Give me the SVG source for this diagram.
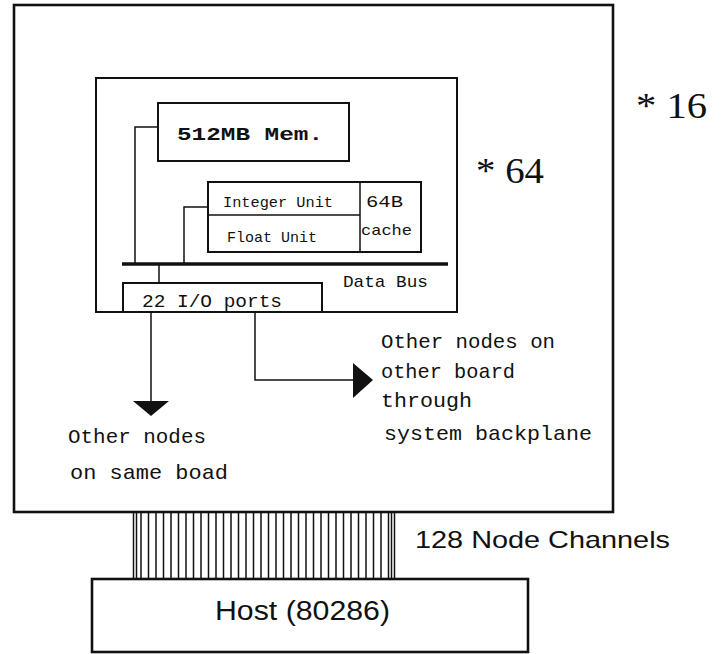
<svg xmlns="http://www.w3.org/2000/svg" width="725" height="654" viewBox="0 0 725 654">
<style>
.box{fill:none;stroke:#111;stroke-width:2}
.thick{fill:none;stroke:#111;stroke-width:2.6}
.ln{fill:none;stroke:#111;stroke-width:1.5}
.tw{font-family:"Liberation Mono","DejaVu Sans Mono",monospace;fill:#111}
.sr{font-family:"Liberation Serif","DejaVu Serif",serif;fill:#111}
.ss{font-family:"Liberation Sans","DejaVu Sans",sans-serif;fill:#111}
.head{fill:#111;stroke:none}
</style>
<rect width="725" height="654" fill="#fff"/>
<g id="board">
<rect class="thick" x="14" y="5" width="599" height="507"/>
<text class="sr" x="636" y="118" font-size="36" textLength="71" lengthAdjust="spacingAndGlyphs">* 16</text>
</g>
<g id="node">
<rect class="box" x="96" y="78" width="361" height="234"/>
<text class="sr" x="476" y="183" font-size="36" textLength="68" lengthAdjust="spacingAndGlyphs">* 64</text>
</g>
<g id="memory">
<rect class="box" x="158" y="103" width="191" height="58"/>
<text class="tw" x="177" y="140" font-size="18" font-weight="bold" textLength="146" lengthAdjust="spacingAndGlyphs">512MB Mem.</text>
</g>
<g id="cpu">
<rect class="box" x="208" y="182" width="213" height="70"/>
<line class="ln" x1="208" y1="215" x2="360" y2="215"/>
<line class="ln" x1="360" y1="182" x2="360" y2="252"/>
<text class="tw" x="223" y="207" font-size="15" textLength="110" lengthAdjust="spacingAndGlyphs">Integer Unit</text>
<text class="tw" x="227" y="242" font-size="15" textLength="90" lengthAdjust="spacingAndGlyphs">Float Unit</text>
<text class="tw" x="366" y="207" font-size="16" textLength="37" lengthAdjust="spacingAndGlyphs">64B</text>
<text class="tw" x="361" y="235" font-size="15" textLength="51" lengthAdjust="spacingAndGlyphs">cache</text>
</g>
<g id="databus">
<line x1="122" y1="264" x2="448" y2="264" stroke="#111" stroke-width="3.5"/>
<text class="tw" x="343" y="287" font-size="17" textLength="85" lengthAdjust="spacingAndGlyphs">Data Bus</text>
</g>
<g id="io">
<path class="box" d="M123 312 V283 H322 V312"/>
<text class="tw" x="142" y="307" font-size="19" textLength="140" lengthAdjust="spacingAndGlyphs">22 I/O ports</text>
</g>
<g id="same-board">
<text class="tw" x="68" y="443" font-size="21" textLength="138" lengthAdjust="spacingAndGlyphs">Other nodes</text>
<text class="tw" x="70" y="479" font-size="21" textLength="158" lengthAdjust="spacingAndGlyphs">on same boad</text>
</g>
<g id="other-board">
<text class="tw" x="381" y="348" font-size="21" textLength="174" lengthAdjust="spacingAndGlyphs">Other nodes on</text>
<text class="tw" x="381" y="378" font-size="21" textLength="134" lengthAdjust="spacingAndGlyphs">other board</text>
<text class="tw" x="381" y="407" font-size="21" textLength="91" lengthAdjust="spacingAndGlyphs">through</text>
<text class="tw" x="384" y="440" font-size="21" textLength="208" lengthAdjust="spacingAndGlyphs">system backplane</text>
</g>
<g id="channels">
<path class="ln" stroke-width="1.4" d="M133.5 512V579M136.5 512V579M141 512V579M148.5 512V579M156 512V579M163.5 512V579M171 512V579M178.5 512V579M186 512V579M193.5 512V579M201 512V579M208.5 512V579M216 512V579M223.5 512V579M231 512V579M238.5 512V579M246 512V579M253.5 512V579M261 512V579M268.5 512V579M276 512V579M283.5 512V579M291 512V579M298.5 512V579M306 512V579M313.5 512V579M321 512V579M328.5 512V579M336 512V579M343.5 512V579M351 512V579M358.5 512V579M366 512V579M373.5 512V579M381 512V579M388.5 512V579M391.5 512V579M394.5 512V579"/>
<text class="ss" x="415" y="548" font-size="24" textLength="255" lengthAdjust="spacingAndGlyphs">128 Node Channels</text>
</g>
<g id="host">
<rect class="thick" x="92" y="579" width="436" height="73"/>
<text class="ss" x="215" y="620" font-size="27" textLength="175" lengthAdjust="spacingAndGlyphs">Host (80286)</text>
</g>
<g id="connectors">
<path class="ln" d="M158 127 H135 V264"/>
<path class="ln" d="M208 207 H184 V264"/>
<path class="ln" d="M159 264 V283"/>
<path class="ln" d="M151 312 V402"/>
<polygon class="head" points="133,401 169,401 151,416"/>
<path class="ln" d="M255 312 V380 H355"/>
<polygon class="head" points="353,363 373,380 353,398"/>
</g>
</svg>
